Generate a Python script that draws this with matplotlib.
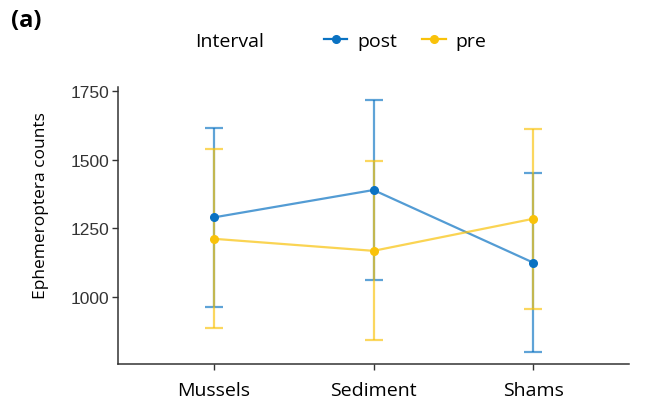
import matplotlib
matplotlib.use("Agg")
import matplotlib.pyplot as plt
from matplotlib.lines import Line2D

# Group means and standard errors of Ephemeroptera counts
categories = ["Mussels", "Sediment", "Shams"]
post_mean = [1290, 1390, 1125]
post_err = [326, 328, 327]
pre_mean = [1212, 1168, 1285]
pre_err = [326, 327, 328]
y_ticks = [1000, 1250, 1500, 1750]

post_color = "#0A72C2"
pre_color = "#F9C20A"
text_font = "Open Sans"

W, H = 647, 406
fig = plt.figure(figsize=(W / 100, H / 100), dpi=100)
ax = fig.add_axes([118 / W, (H - 365) / H, (629 - 118) / W, (365 - 88) / H])

x = list(range(len(categories)))
for mean, err, col in [(post_mean, post_err, post_color), (pre_mean, pre_err, pre_color)]:
    ax.errorbar(x, mean, yerr=err, color=col, alpha=0.65, lw=1.6,
                capsize=6.5, capthick=1.6, fmt="none", zorder=2)
    ax.plot(x, mean, color=col, alpha=0.7, lw=1.6, zorder=3)
    ax.plot(x, mean, "o", color=col, ms=5.5, zorder=4)

ax.set_xlim(-0.6, 2.6)
ax.set_ylim(755, 1766)
ax.set_xticks(x)
ax.set_xticklabels(categories, fontfamily=text_font, fontsize=14)
ax.set_yticks(y_ticks)
ax.set_yticklabels([str(v) for v in y_ticks], fontfamily="Liberation Sans",
                   fontsize=12.5, color="#333333")
ax.tick_params(axis="both", length=4.5, width=1, color="#333333")
ax.tick_params(axis="x", pad=8)
ax.tick_params(axis="y", pad=1.5)
for side in ["top", "right"]:
    ax.spines[side].set_visible(False)
for side in ["left", "bottom"]:
    ax.spines[side].set_color("#333333")
    ax.spines[side].set_linewidth(1.1)
ax.set_ylabel("Ephemeroptera counts", fontfamily=text_font, fontsize=12.5)
ax.yaxis.set_label_coords((49 - 118) / 511, (365 - 206) / 277)

# Panel tag and legend on top
fig.text(11 / W, 1 - 21 / H, "(a)", fontfamily=text_font, fontweight="bold",
         fontsize=17, va="center", ha="left")
fig.text(195 / W, 1 - 42 / H, "Interval", fontfamily=text_font, fontsize=14,
         va="center", ha="left")
handles = [Line2D([], [], color=post_color, marker="o", ms=5.5, lw=1.6),
           Line2D([], [], color=pre_color, marker="o", ms=5.5, lw=1.6)]
fig.legend(handles, ["post", "pre"], loc="center left",
           bbox_to_anchor=(324 / W, 1 - 42 / H), ncol=2, frameon=False,
           prop={"family": text_font, "size": 14}, handlelength=1.2,
           handletextpad=0.5, columnspacing=1.3, borderaxespad=0, borderpad=0)

fig.savefig("out.png", dpi=100)
